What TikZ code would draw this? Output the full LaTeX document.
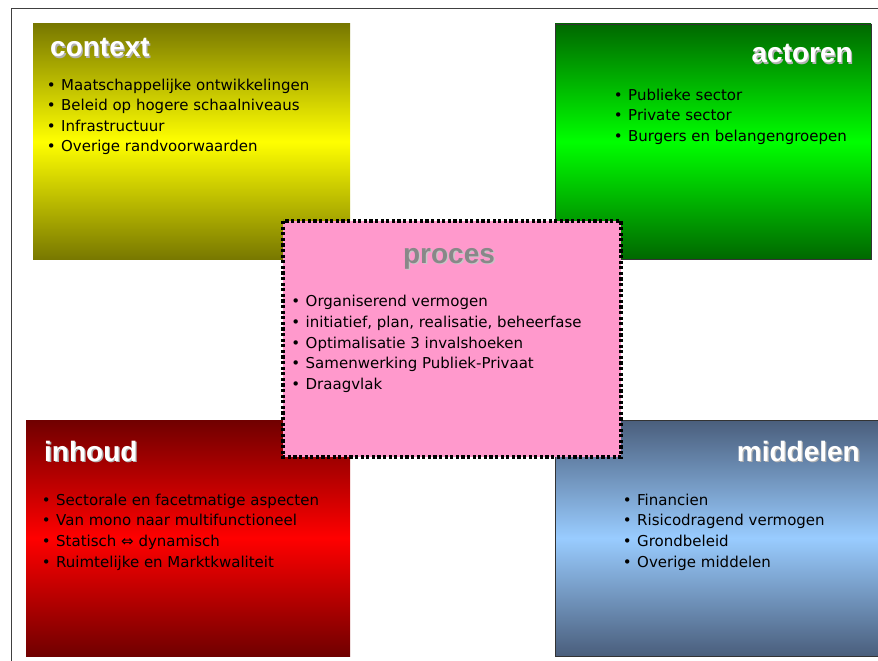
\documentclass[tikz,border=0pt]{standalone}
\usepackage{fontspec}
\setmainfont{DejaVu Sans}
\newfontfamily\headfont{Liberation Sans}
\definecolor{olivedark}{RGB}{120, 120, 0}
\definecolor{yellowlight}{RGB}{255, 255, 0}
\definecolor{greendark}{RGB}{0, 104, 0}
\definecolor{greenlight}{RGB}{0, 255, 0}
\definecolor{reddark}{RGB}{112, 0, 0}
\definecolor{redlight}{RGB}{255, 0, 0}
\definecolor{steeldark}{RGB}{74, 94, 124}
\definecolor{steellight}{RGB}{153, 204, 255}
\definecolor{procpink}{RGB}{255, 153, 204}
\definecolor{procgray}{RGB}{136, 136, 136}
\usepackage{tikz}
\usetikzlibrary{positioning}

\newcommand{\bul}{\makebox[10pt][c]{•}\hspace{5pt}}

\begin{document}
\begin{tikzpicture}[x=1pt, y=-1pt,
  panel/.style={inner sep=0pt, outer sep=0pt, anchor=north west},
  title/.style={font=\headfont\bfseries\fontsize{28}{30}\selectfont,
                text=white, inner sep=0pt},
  tshadow/.style={title, text=black!30},
  items/.style={font=\fontsize{15}{20.6}\selectfont, align=left,
                inner sep=0pt, anchor=north west, text=black},
]
\useasboundingbox (0,0) rectangle (878,661);

% Frame
\draw[black!75, line width=1pt] (11,661) -- (11,9) -- (878,9);

% context
\node[panel, minimum width=317pt, minimum height=235pt,
      top color=olivedark, bottom color=olivedark, middle color=yellowlight] (ctx) at (33,24) {};
\node[tshadow, anchor=base west] (ctx-s) at (51.3,58.3) {context};
\node[title, anchor=base west] (ctx-t) at (50,57) {context};
\node[items] (ctx-l) at (46,78.6)
{\bul Maatschappelijke ontwikkelingen\\
 \bul Beleid op hogere schaalniveaus\\
 \bul Infrastructuur\\
 \bul Overige randvoorwaarden};

% actoren
\node[panel, draw=black!80, minimum width=316pt, minimum height=235pt,
      top color=greendark, bottom color=greendark, middle color=greenlight] (act) at (555,24) {};
\node[tshadow, anchor=base east] (act-s) at (854.3,64.3) {actoren};
\node[title, anchor=base east] (act-t) at (853,63) {actoren};
\node[items] (act-l) at (613,88.6)
{\bul Publieke sector\\
 \bul Private sector\\
 \bul Burgers en belangengroepen};

% inhoud
\node[panel, minimum width=324pt, minimum height=236pt,
      top color=reddark, bottom color=reddark, middle color=redlight] (inh) at (26,420) {};
\node[tshadow, anchor=base west] (inh-s) at (45.3,462.3) {inhoud};
\node[title, anchor=base west] (inh-t) at (44,461) {inhoud};
\node[items] (inh-l) at (41,493.6)
{\bul Sectorale en facetmatige aspecten\\
 \bul Van mono naar multifunctioneel\\
 \bul Statisch ⇔ dynamisch\\
 \bul Ruimtelijke en Marktkwaliteit};

% middelen
\node[panel, draw=black!80, minimum width=330pt, minimum height=236pt,
      top color=steeldark, bottom color=steeldark, middle color=steellight] (mid) at (555,420) {};
\node[tshadow, anchor=base east] (mid-s) at (861.3,462.3) {middelen};
\node[title, anchor=base east] (mid-t) at (860,461) {middelen};
\node[items] (mid-l) at (622,493.6)
{\bul Financien\\
 \bul Risicodragend vermogen\\
 \bul Grondbeleid\\
 \bul Overige middelen};

% proces
\node[panel, fill=procpink, minimum width=338pt, minimum height=236pt] (proc) at (283,221) {};
\draw[black, line width=3.2pt, dash pattern=on 3.2pt off 2.4pt]
  (proc.north west) rectangle (proc.south east);
\node[tshadow, text=black!22, anchor=base] (proc-s) at (450.3,264.3) {proces};
\node[title, text=procgray, anchor=base] (proc-t) at (449,263) {proces};
\node[items] (proc-l) at (290.5,295.3)
{\bul Organiserend vermogen\\
 \bul initiatief, plan, realisatie, beheerfase\\
 \bul Optimalisatie 3 invalshoeken\\
 \bul Samenwerking Publiek-Privaat\\
 \bul Draagvlak};
\end{tikzpicture}
\end{document}
